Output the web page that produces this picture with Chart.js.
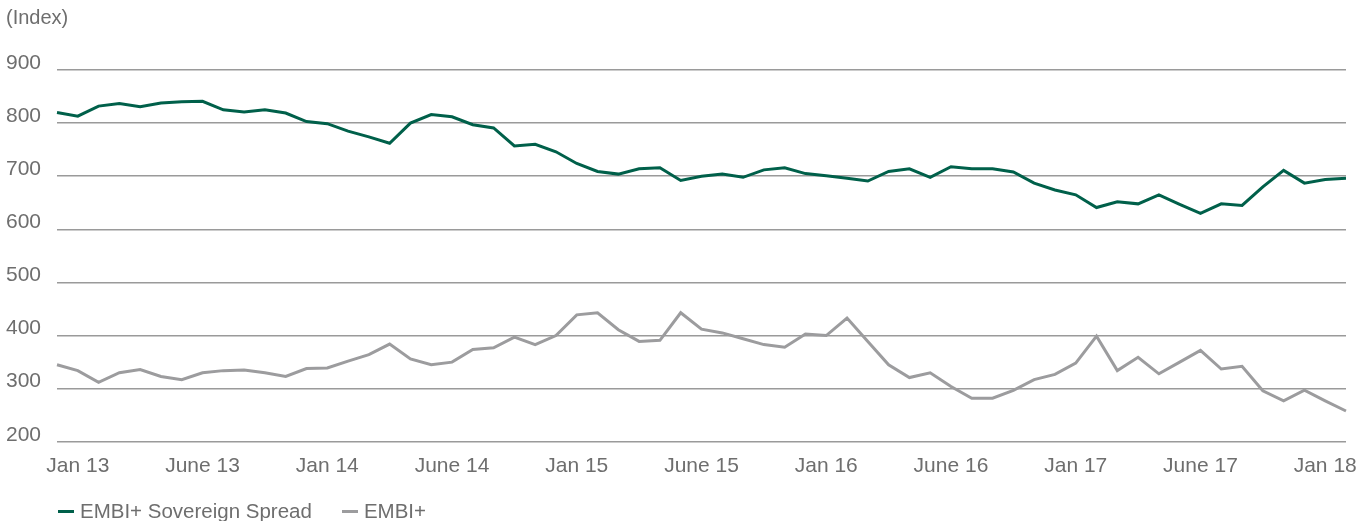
<!DOCTYPE html>
<html>
<head>
<meta charset="utf-8">
<script src="https://cdn.jsdelivr.net/npm/chart.js@4"></script>
<style>
  html, body { margin: 0; padding: 0; background: #fff; }
  #wrap { position: relative; width: 1358px; height: 521px; }
  #legend {
    position: absolute; left: 58px; top: 499px;
    font-family: "Liberation Sans", Arial, sans-serif; font-size: 20.5px; color: #6e6e6e;
    white-space: nowrap; line-height: 24px;
  }
  #legend .item { display: inline-block; margin-right: 30px; }
  #legend .mark { display: inline-block; width: 16px; height: 3px; vertical-align: middle; margin-right: 6px; position: relative; top: -1px; }
</style>
</head>
<body>
<div id="wrap">
  <canvas id="chart" width="1358" height="521"></canvas>
  <div id="legend"></div>
</div>
<script>
// ===== DATA (monthly, Jan 13 .. Mar 18) =====
const sovereignSpread = [
  820, 813, 832, 837, 831, 838, 840, 841, 825, 821, 825, 819,
  803, 799, 785, 774, 762, 800, 816, 812, 797, 791, 757, 760,
  746, 724, 709, 704, 714, 716, 692, 700, 704, 698, 712, 716,
  705, 701, 696, 691, 709, 714, 698, 718, 714, 714, 708, 687,
  674, 665, 641, 652, 648, 665, 647, 630, 648, 645, 680, 711,
  687, 694, 696
];
const embiPlus = [
  345, 334, 312, 330, 336, 323, 317, 330, 334, 335, 330, 323,
  338, 339, 352, 364, 384, 356, 345, 350, 374, 377, 397, 383,
  400, 439, 443, 411, 389, 391, 443, 412, 405, 394, 383, 378,
  403, 400, 433, 389, 345, 321, 330, 304, 282, 282, 297, 317,
  327, 348, 399, 334, 359, 328, 350, 372, 337, 342, 296, 277,
  297, 277, 258
];
const tickLabels = ['Jan 13', 'June 13', 'Jan 14', 'June 14', 'Jan 15', 'June 15',
                    'Jan 16', 'June 16', 'Jan 17', 'June 17', 'Jan 18'];
const tickAt = [1, 7, 13, 19, 25, 31, 37, 43, 49, 55, 61];
const seriesNames = ['EMBI+ Sovereign Spread', 'EMBI+'];
const seriesColors = ['#00604a', '#9c9c9e'];

const FONT = '"Liberation Sans", Arial, sans-serif';
const TEXT_COLOR = '#6e6e6e';

// category labels, blank except where a tick label sits
const xLabels = sovereignSpread.map((_, i) => {
    const k = tickAt.indexOf(i);
    return k >= 0 ? tickLabels[k] : '';
});

function initChart() {
    const ctx = document.getElementById('chart');
    new Chart(ctx, {
        type: 'line',
        data: {
            labels: xLabels,
            datasets: [
                {
                    label: seriesNames[0],
                    data: sovereignSpread,
                    borderColor: seriesColors[0],
                    borderWidth: 3,
                    pointRadius: 0,
                    tension: 0
                },
                {
                    label: seriesNames[1],
                    data: embiPlus,
                    borderColor: seriesColors[1],
                    borderWidth: 3,
                    pointRadius: 0,
                    tension: 0
                }
            ]
        },
        options: {
            responsive: false,
            animation: false,
            layout: { padding: { left: 6, right: 11, top: 0, bottom: 30 } },
            scales: {
                x: {
                    offset: false,
                    grid: { display: false, drawTicks: false },
                    border: { display: false },
                    ticks: {
                        autoSkip: false,
                        maxRotation: 0,
                        minRotation: 0,
                        padding: 12,
                        color: TEXT_COLOR,
                        font: { family: FONT, size: 21 }
                    }
                },
                y: {
                    min: 200,
                    max: 900,
                    afterFit: (scale) => { scale.width = 51; },
                    grid: { color: '#9a9a9a', lineWidth: 1.5, drawTicks: false },
                    border: { display: false },
                    ticks: {
                        stepSize: 100,
                        crossAlign: 'far',
                        labelOffset: -7,
                        padding: 15,
                        color: TEXT_COLOR,
                        font: { family: FONT, size: 21 }
                    }
                }
            },
            plugins: {
                legend: { display: false },
                tooltip: { enabled: false },
                title: {
                    display: true,
                    text: '(Index)',
                    align: 'start',
                    color: TEXT_COLOR,
                    font: { family: FONT, size: 20, weight: 'normal' },
                    padding: { top: 6, bottom: 40 }
                }
            }
        }
    });
}

// ===== LEGEND (HTML) =====
function buildLegend() {
    const legend = document.getElementById('legend');
    seriesNames.forEach((name, i) => {
        const item = document.createElement('span');
        item.className = 'item';
        item.innerHTML = `<span class="mark" style="background:${seriesColors[i]}"></span>${name}`;
        legend.appendChild(item);
    });
}

initChart();
buildLegend();
</script>
</body>
</html>
